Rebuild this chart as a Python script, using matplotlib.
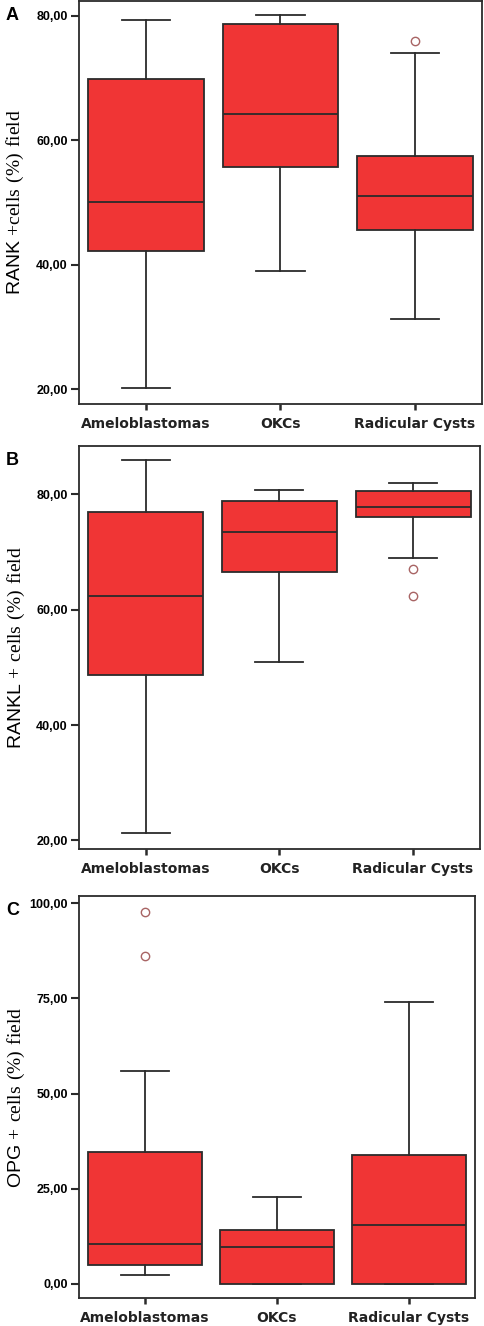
import matplotlib.pyplot as plt

plt.rcParams["font.family"] = ["Liberation Sans", "DejaVu Sans"]
plt.rcParams["mathtext.fontset"] = "custom"
plt.rcParams["mathtext.rm"] = "Liberation Serif"

groups = ["Ameloblastomas", "OKCs", "Radicular Cysts"]
group_labels = ["Ameloblastomas", "OKCs", "Radicular Cysts"]

# panel A: RANK
rank_whislo = [20.1, 39.0, 31.2]
rank_q1 = [42.2, 55.7, 45.6]
rank_med = [50.1, 64.2, 51.1]
rank_q3 = [69.9, 78.7, 57.4]
rank_whishi = [79.4, 80.1, 74.0]
rank_fliers = [[], [], [76.0]]

# panel B: RANKL
rankl_whislo = [21.2, 51.0, 69.0]
rankl_q1 = [48.6, 66.5, 76.0]
rankl_med = [62.4, 73.4, 77.8]
rankl_q3 = [77.0, 78.9, 80.6]
rankl_whishi = [86.0, 80.8, 81.9]
rankl_fliers = [[], [], [67.0, 62.4]]

# panel C: OPG
opg_whislo = [2.4, 0.0, 0.0]
opg_q1 = [4.9, 0.0, 0.0]
opg_med = [10.4, 9.6, 15.6]
opg_q3 = [34.6, 14.1, 33.9]
opg_whishi = [56.0, 22.9, 74.0]
opg_fliers = [[97.8, 86.1], [], []]

RED = "#F03535"
DARK = "#2b2b2b"


def make_stats(whislo, q1, med, q3, whishi, fliers):
    stats = []
    for i in range(len(groups)):
        stats.append({
            "label": group_labels[i],
            "whislo": whislo[i], "q1": q1[i], "med": med[i],
            "q3": q3[i], "whishi": whishi[i], "fliers": fliers[i],
        })
    return stats


def draw_panel(ax, stats, ylabel, letter, ylim, yticks):
    ax.bxp(
        stats, positions=[1, 2, 3], widths=0.86, capwidths=0.36,
        patch_artist=True, showfliers=True,
        boxprops=dict(facecolor=RED, edgecolor=DARK, linewidth=1.3),
        medianprops=dict(color=DARK, linewidth=1.3),
        whiskerprops=dict(color=DARK, linewidth=1.3),
        capprops=dict(color=DARK, linewidth=1.3),
        flierprops=dict(marker="o", markersize=6, markerfacecolor="none",
                        markeredgecolor="#A86464", markeredgewidth=1.0),
    )
    ax.set_xlim(0.5, 3.5)
    ax.set_ylim(*ylim)
    ax.set_yticks(yticks)
    ax.set_yticklabels([f"{v:.2f}".replace(".", ",") for v in yticks],
                       fontsize=9, fontweight="bold")
    ax.set_xticks([1, 2, 3])
    ax.set_xticklabels(group_labels, family=["DejaVu Sans"], fontsize=10,
                       fontweight="bold", color="#222222")
    ax.tick_params(axis="x", length=4, width=1.8, pad=5, color=DARK)
    ax.tick_params(axis="y", length=6, width=1.5, pad=2, color=DARK)
    for sp in ax.spines.values():
        sp.set_linewidth(1.3)
        sp.set_color(DARK)
    ax.set_ylabel(ylabel, fontsize=14)
    ax.yaxis.set_label_coords(-0.13, 0.5)
    ax.text(-0.166, 1 - 6 / 403, letter, transform=ax.transAxes, fontsize=13,
            fontweight="bold", ha="center", va="top")


fig = plt.figure(figsize=(4.84, 13.26), dpi=100)
ax_a = fig.add_axes([0.163, 0.6953, 0.833, 0.304])
ax_b = fig.add_axes([0.163, 0.3597, 0.8285, 0.304])
ax_c = fig.add_axes([0.163, 0.0211, 0.818, 0.3032])

draw_panel(ax_a, make_stats(rank_whislo, rank_q1, rank_med, rank_q3,
                            rank_whishi, rank_fliers),
           r"RANK $\mathrm{+cells\ (\%)\ field}$", "A",
           (17.6, 82.4), [20, 40, 60, 80])
draw_panel(ax_b, make_stats(rankl_whislo, rankl_q1, rankl_med, rankl_q3,
                            rankl_whishi, rankl_fliers),
           r"RANKL $\mathrm{+\ cells\ (\%)\ field}$", "B",
           (18.5, 88.4), [20, 40, 60, 80])
draw_panel(ax_c, make_stats(opg_whislo, opg_q1, opg_med, opg_q3,
                            opg_whishi, opg_fliers),
           r"OPG $\mathrm{+\ cells\ (\%)\ field}$", "C",
           (-3.7, 101.9), [0, 25, 50, 75, 100])

fig.savefig("out.png", dpi=100)
